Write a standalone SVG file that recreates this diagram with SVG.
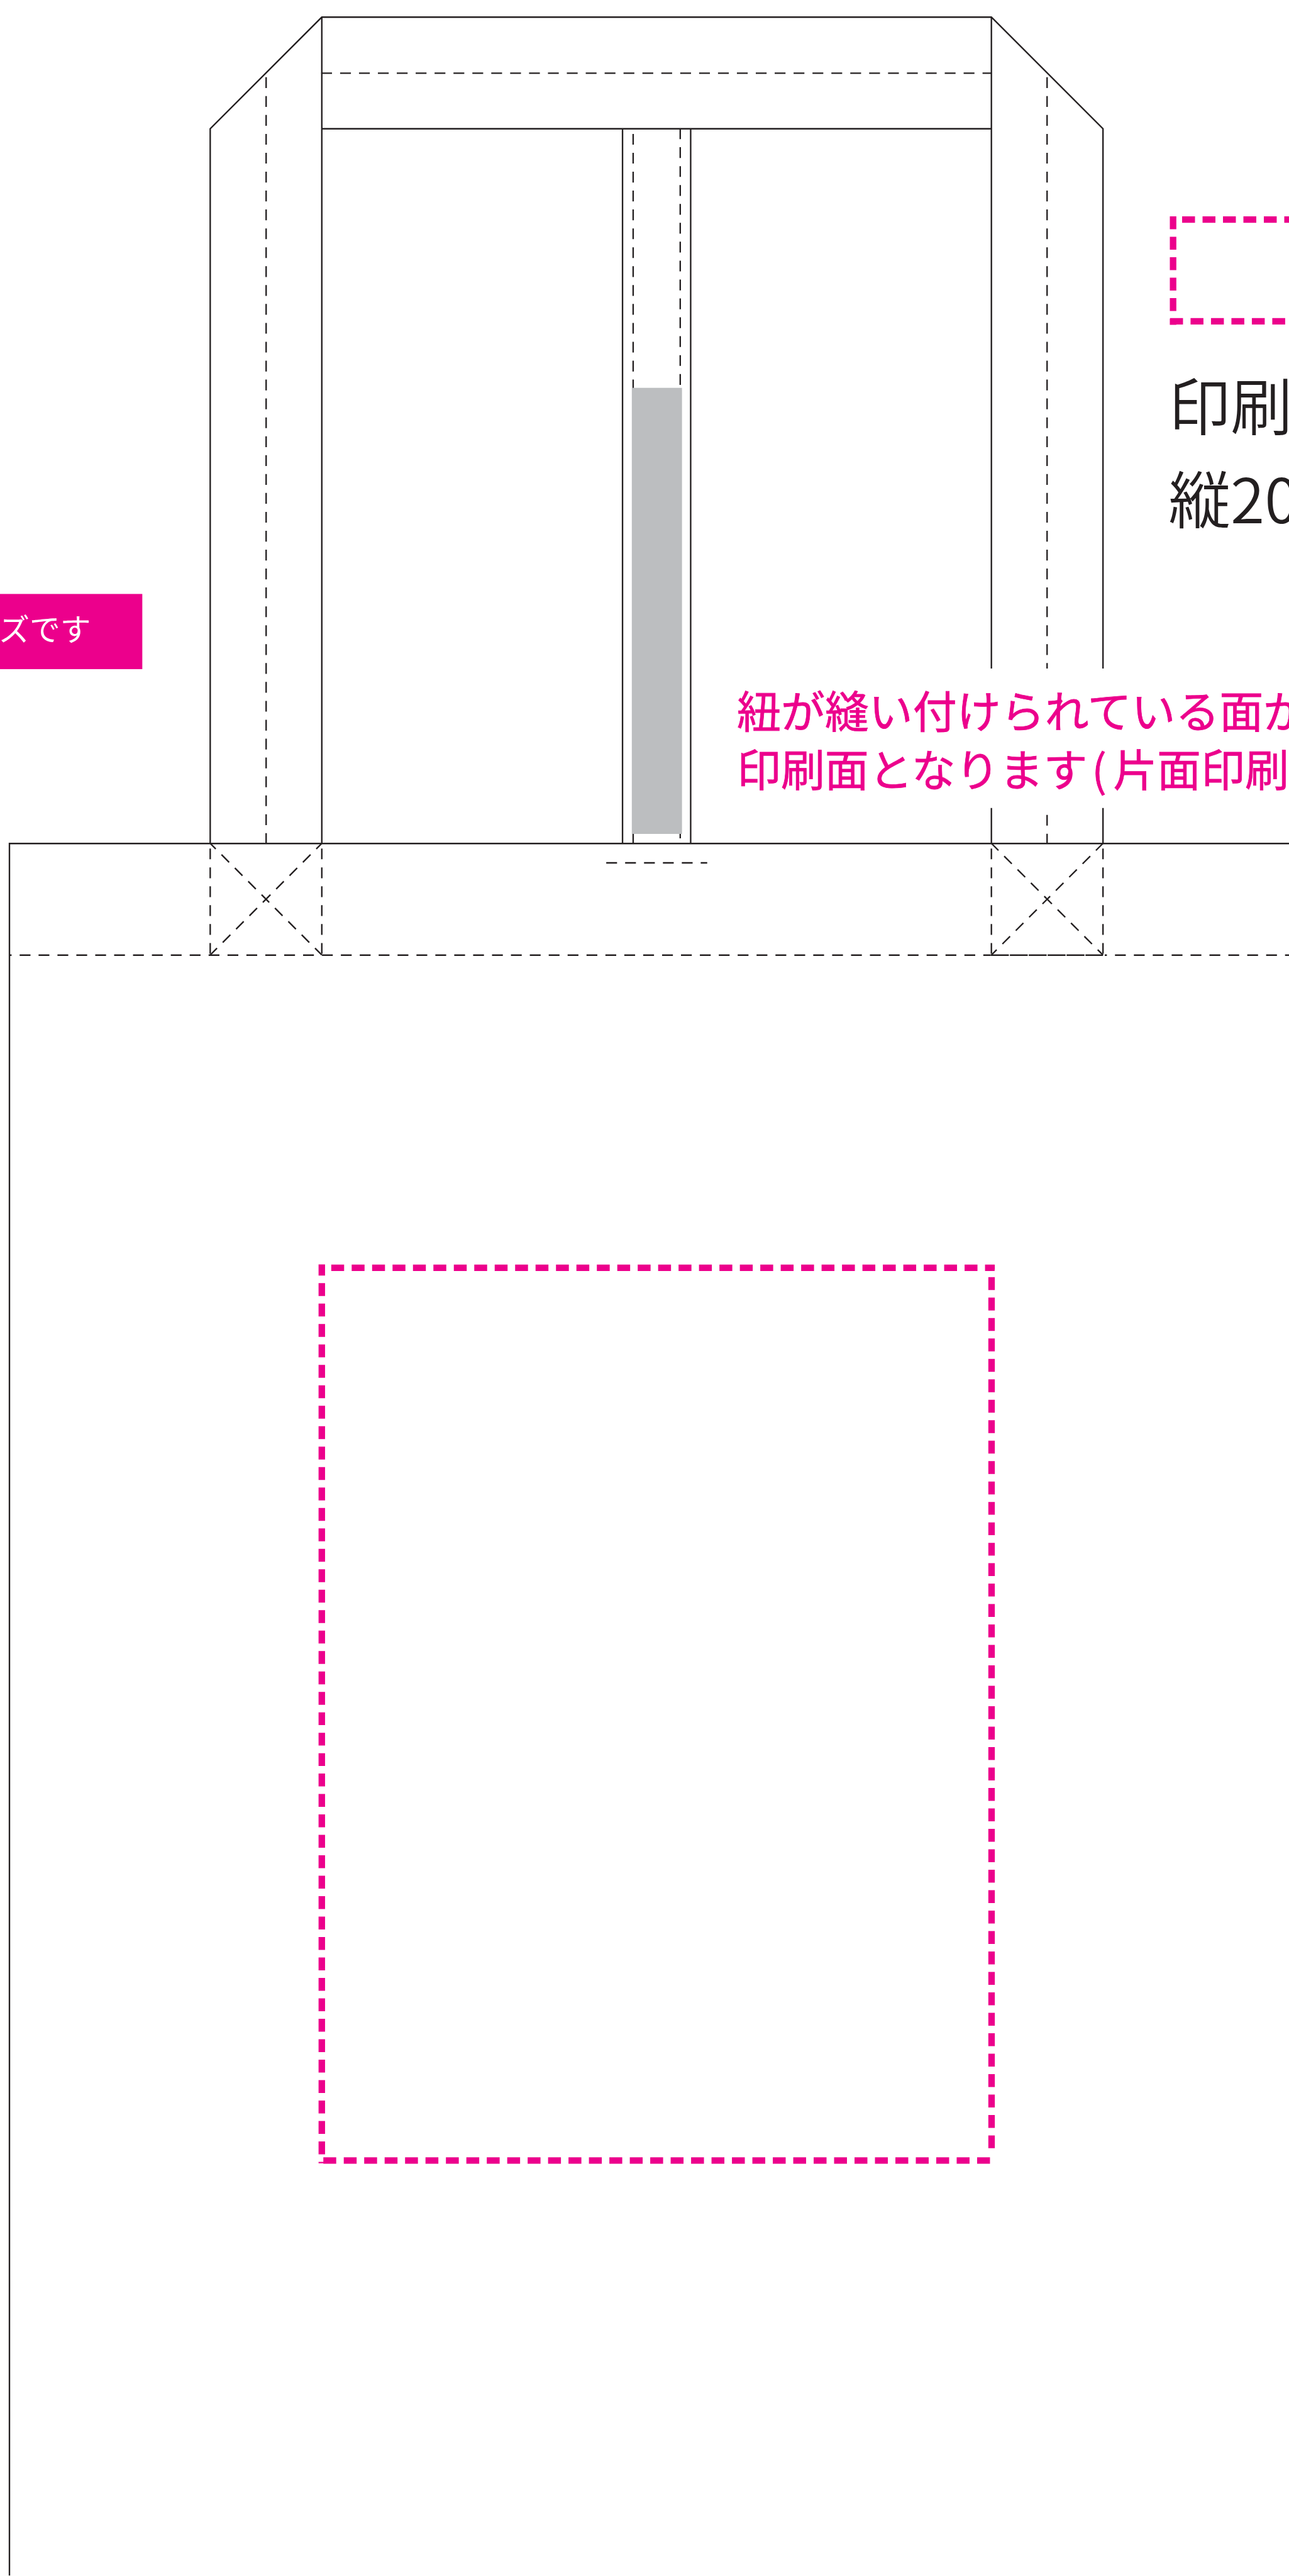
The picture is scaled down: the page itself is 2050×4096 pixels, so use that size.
<svg xmlns="http://www.w3.org/2000/svg" width="2050" height="4096" viewBox="0 0 2050 4096">
<style>
.s{fill:none;stroke:#231F20;stroke-width:2.5}
.d{fill:none;stroke:#231F20;stroke-width:2.5;stroke-dasharray:18.3 13.7}
.p{fill:none;stroke:#EC008C;stroke-width:11;stroke-dasharray:21.8 12.8}
text{font-family:"Noto Sans CJK JP","Noto Sans",sans-serif}
</style>
<rect width="2050" height="4096" fill="#fff"/>
<g transform="scale(0.93907)">
<g id="bag-lines">
<path class="s" d="M356 1428V218L545 29H1679L1868 218V1132M1868 1368V1428M1679 29V1132M1679 1368V1428M545 29V1428M545 218H1679M1054.3 218V1428M1169.7 218V1428M16 4361V1428.3H2183"/>
<path class="d" d="M544 124H1679"/>
<path class="d" d="M450.7 130.7V1428"/>
<path class="d" d="M1773.3 130.7V1132M1773.3 1379.7V1428"/>
<path class="d" d="M1072.3 226.7V1428"/>
<path class="d" d="M1152 217.3V1428"/>
<path class="d" d="M1026.7 1461H1197.7"/>
</g>
<rect id="string-fill" x="1070" y="656.7" width="85" height="755.3" fill="#BCBEC0"/>
<g id="stitch-left">
<path class="d" d="M356 1436.7V1617"/>
<path class="d" d="M545 1436.7V1617"/>
<path class="d" stroke-dashoffset="5" d="M356 1428L545 1617"/>
<path class="d" stroke-dashoffset="5" d="M545 1428L356 1617"/>
</g>
<g id="stitch-right">
<path class="d" d="M1679 1436.7V1617"/>
<path class="d" d="M1868 1436.7V1617"/>
<path class="d" stroke-dashoffset="1.4" d="M1679 1428L1868 1617"/>
<path class="d" stroke-dashoffset="1.4" d="M1868 1428L1679 1617"/>
<path class="s" stroke-dasharray="30.3 1.7" d="M1678.3 1617.3H1868"/>
</g>
<path id="fold-line" class="d" stroke-dashoffset="14.7" d="M16 1617.3H1678M1871 1617.3H2183"/>
<g id="print-area">
<path class="p" d="M561 2146.7H1684.5"/>
<path class="p" stroke-dashoffset="-21" d="M1679.3 2141.5V3643.3"/>
<path class="p" stroke-dashoffset="-2.7" d="M1679.3 3658.3H540"/>
<path class="p" stroke-dashoffset="2.9" d="M545 2141V3663"/>
</g>
<g id="print-area-legend">
<path class="p" d="M2002 371.7H2183"/>
<path class="p" d="M1986.7 366.4V550"/>
<path class="p" d="M1981.7 544H2183"/>
<text x="1979" y="728" font-size="105" font-weight="350" fill="#231F20">印刷</text>
<text x="1979" y="886" font-size="105" font-weight="350" fill="#231F20">縦20</text>
</g>
<g id="note">
<text font-size="74.5" font-weight="400" fill="#EC008C" stroke="#EC008C" stroke-width="0.8"><tspan x="1248" y="1233">紐が縫い付けられている面が</tspan><tspan x="1248" y="1332">印刷面となります</tspan><tspan x="1849" y="1332">(</tspan><tspan x="1885" y="1332">片面印刷</tspan></text>
</g>
<g id="badge">
<rect x="-2" y="1005.7" width="243" height="127.3" fill="#EC008C"/>
<text x="-2" y="1085" font-size="52" fill="#fff">ズです</text>
</g>
</g>
</svg>
